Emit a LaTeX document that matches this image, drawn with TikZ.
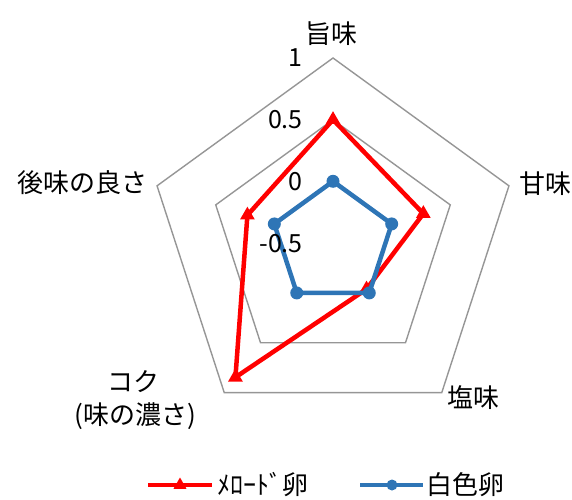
\documentclass[tikz,border=0pt]{standalone}
\usepackage{fontspec}
\setmainfont{Noto Sans CJK JP}
\usetikzlibrary{shapes.geometric}
\definecolor{sred}{RGB}{255,0,0}
\definecolor{sblue}{RGB}{46,117,182}
\definecolor{gridc}{RGB}{150,150,150}
\tikzset{
  gridline/.style={draw=gridc, line width=1.4pt, line join=miter},
  redline/.style={draw=sred, line width=4.5pt, line join=round},
  blueline/.style={draw=sblue, line width=4.5pt, line join=round},
  trimark/.style={regular polygon, regular polygon sides=3, fill=sred, draw=none, minimum size=17pt, inner sep=0pt},
  dotmark/.style={circle, fill=sblue, draw=none, minimum size=13pt, inner sep=0pt},
  lab/.style={font=\fontsize{26}{30}\selectfont, inner sep=0pt, text=black},
  ticklab/.style={font=\fontsize{25}{30}\selectfont, inner sep=0pt, anchor=east, text=black}
}
\begin{document}
\begin{tikzpicture}[x=1pt,y=1pt]
\useasboundingbox (0,0) rectangle (572,499);
\begin{scope}[shift={(333,256)}]
  % grid pentagons (values 1 and 0.5)
  \foreach \i/\a in {1/90,2/18,3/-54,4/-126,5/162}{
    \coordinate (go\i) at (\a:185);
    \coordinate (gi\i) at (\a:123.3);
  }
  \draw[gridline] (go1) -- (go2) -- (go3) -- (go4) -- (go5) -- cycle;
  \draw[gridline] (gi1) -- (gi2) -- (gi3) -- (gi4) -- (gi5) -- cycle;
  % data: r = 123.33*(v+0.5)
  \coordinate (r1) at (90:123.3);
  \coordinate (r2) at (18:95);
  \coordinate (r3) at (-54:57);
  \coordinate (r4) at (-126:166);
  \coordinate (r5) at (162:90);
  \foreach \i/\a in {1/90,2/18,3/-54,4/-126,5/162}{
    \coordinate (b\i) at (\a:61.7);
  }
  \draw[redline] (r1) -- (r2) -- (r3) -- (r4) -- (r5) -- cycle;
  \foreach \i in {1,...,5}{ \node[trimark] (rm\i) at (r\i) {}; }
  \draw[blueline] (b1) -- (b2) -- (b3) -- (b4) -- (b5) -- cycle;
  \foreach \i in {1,...,5}{ \node[dotmark] (bm\i) at (b\i) {}; }
\end{scope}
% tick labels
\node[ticklab] (t1) at (303,441) {1};
\node[ticklab] (t2) at (303,379) {0.5};
\node[ticklab] (t3) at (303,317) {0};
\node[ticklab] (t4) at (303,255) {-0.5};
% axis labels
\node[lab] (l1) at (331,465) {旨味};
\node[lab, anchor=west] (l2) at (519,315) {甘味};
\node[lab, anchor=west] (l3) at (447,101) {塩味};
\node[lab, anchor=east] (l5) at (148,316) {後味の良さ};
\node[lab] (l4a) at (133,117) {コク};
\node[lab] (l4b) at (135,83) {(味の濃さ)};
% legend
\coordinate (lr1) at (148,14);
\coordinate (lr2) at (212,14);
\draw[redline, line width=4pt] (lr1) -- (lr2);
\node[trimark, minimum size=15pt] (lrm) at (180,14) {};
\node[lab, anchor=west] (lrt) at (217,14) {ﾒﾛｰﾄﾞ卵};
\coordinate (lb1) at (360,14);
\coordinate (lb2) at (423,14);
\draw[blueline, line width=4pt] (lb1) -- (lb2);
\node[dotmark, minimum size=11pt] (lbm) at (392,14) {};
\node[lab, anchor=west] (lbt) at (426,14) {白色卵};
\end{tikzpicture}
\end{document}
